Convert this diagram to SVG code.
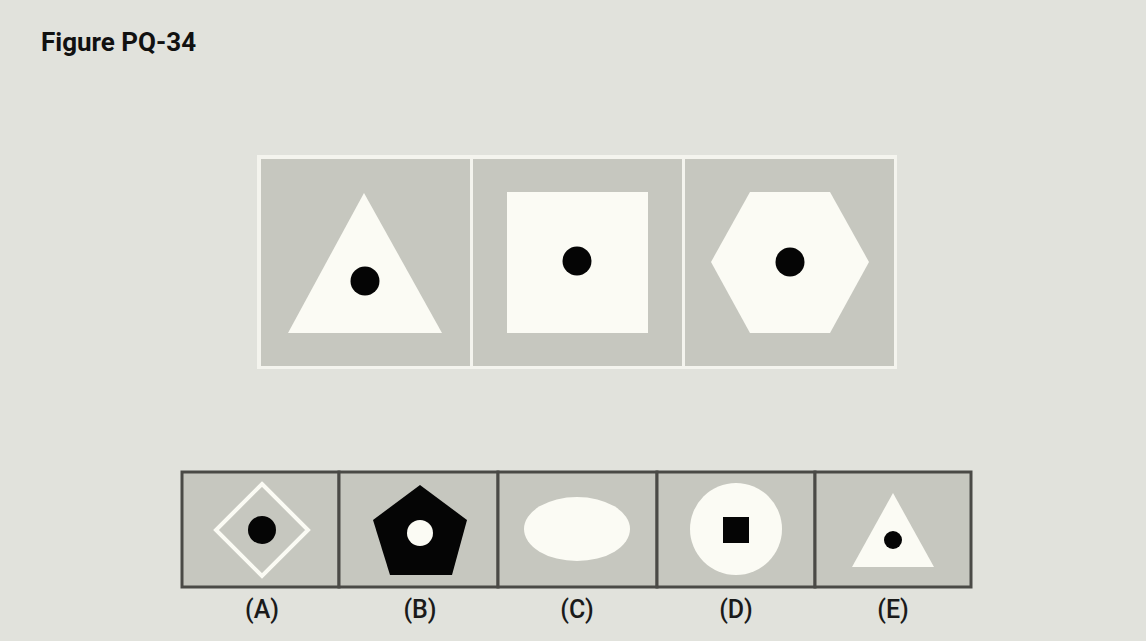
<svg xmlns="http://www.w3.org/2000/svg" width="1146" height="641" viewBox="0 0 1146 641">
<style>
.panel{fill:#c6c7bf}
.white{fill:#fbfbf4}
.dot{fill:#050505}
.opt{fill:#c6c7bf;stroke:#4a4a46;stroke-width:3}
.lbl{font-family:Roboto,"Liberation Sans",sans-serif;font-size:25px;font-weight:500;fill:#1a1a1a;text-anchor:middle}
.title{font-family:Roboto,"Liberation Sans",sans-serif;font-size:26px;font-weight:bold;fill:#111}
</style>
<rect width="1146" height="641" fill="#e1e2dc"/>
<text class="title" x="41" y="51">Figure PQ-34</text>
<g id="sequence">
<rect x="257" y="155" width="640" height="214" fill="#f4f4ee"/>
<g id="panel1">
<rect class="panel" x="261" y="159" width="209" height="207"/>
<polygon class="white" points="364,193 288,333 442,333"/>
<circle class="dot" cx="365" cy="281" r="14.5"/>
</g>
<g id="panel2">
<rect class="panel" x="473" y="159" width="209" height="207"/>
<rect class="white" x="507" y="192" width="141" height="141"/>
<circle class="dot" cx="577" cy="261" r="14.5"/>
</g>
<g id="panel3">
<rect class="panel" x="685" y="159" width="209" height="207"/>
<polygon class="white" points="711,262 750,192 830,192 869,262 830,333 750,333"/>
<circle class="dot" cx="790" cy="262" r="14.5"/>
</g>
</g>
<g id="options">
<g id="optA">
<rect class="opt" x="182" y="472" width="157" height="115"/>
<polygon points="262,484 308,530 262,576 216,530" fill="none" stroke="#fbfbf4" stroke-width="4"/>
<circle class="dot" cx="262" cy="530" r="14"/>
<text class="lbl" x="262" y="618">(A)</text>
</g>
<g id="optB">
<rect class="opt" x="339" y="472" width="159" height="115"/>
<polygon class="dot" points="420,485 467,520 452,575 390,575 373,520"/>
<circle class="white" cx="420" cy="533" r="13"/>
<text class="lbl" x="420" y="618">(B)</text>
</g>
<g id="optC">
<rect class="opt" x="498" y="472" width="159" height="115"/>
<ellipse class="white" cx="577" cy="529" rx="53" ry="32"/>
<text class="lbl" x="577" y="618">(C)</text>
</g>
<g id="optD">
<rect class="opt" x="657" y="472" width="158" height="115"/>
<circle class="white" cx="736" cy="529" r="46"/>
<rect class="dot" x="723" y="517" width="26" height="26"/>
<text class="lbl" x="736" y="618">(D)</text>
</g>
<g id="optE">
<rect class="opt" x="815" y="472" width="156" height="115"/>
<polygon class="white" points="893,493 934,567 852,567"/>
<circle class="dot" cx="893" cy="540" r="9"/>
<text class="lbl" x="893" y="618">(E)</text>
</g>
</g>
</svg>
